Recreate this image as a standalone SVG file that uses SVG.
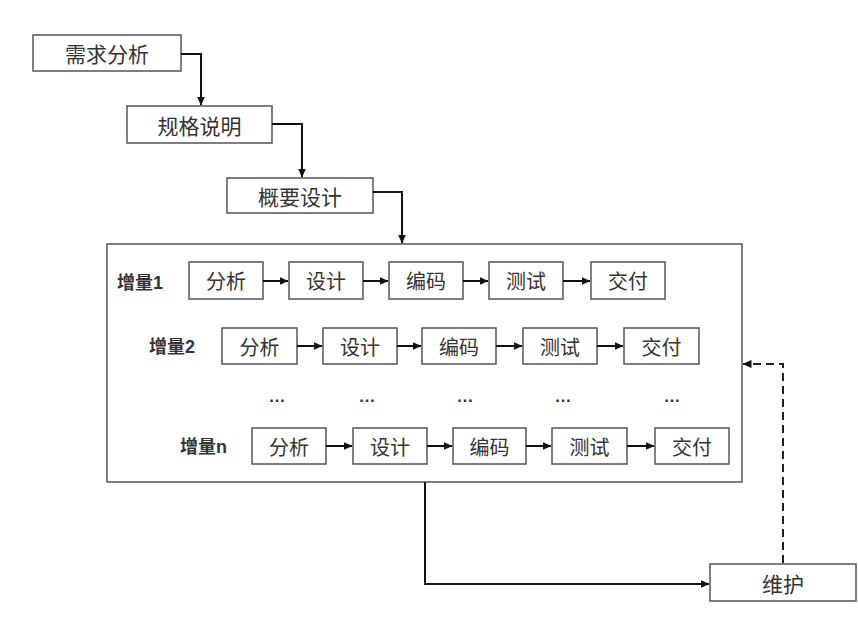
<svg xmlns="http://www.w3.org/2000/svg" width="858" height="628" viewBox="0 0 858 628">
<style>
.box{fill:#fff;stroke:#555;stroke-width:1.5}
.t{font-family:"Noto Sans CJK SC","Noto Sans",sans-serif;font-size:20px;fill:#333;text-anchor:middle;dominant-baseline:central}
.big{font-size:21px}
.lbl{font-family:"Liberation Sans","Noto Sans CJK SC",sans-serif;font-size:18px;font-weight:bold;fill:#333;dominant-baseline:central}
.dots{font-family:"Liberation Sans",sans-serif;font-size:17px;font-weight:bold;fill:#333;text-anchor:middle}
.c{fill:none;stroke:#111;stroke-width:2}
.d{fill:none;stroke:#222;stroke-width:2;stroke-dasharray:8,5}
</style>
<defs>
<marker id="ah" markerWidth="9" markerHeight="8" refX="8.5" refY="4" orient="auto" markerUnits="userSpaceOnUse">
<path d="M0,0 L9,4 L0,8 Z" fill="#111"/>
</marker>
</defs>
<rect width="858" height="628" fill="#fff"/>

<g id="container">
<rect class="box" x="107" y="244" width="635" height="238"/>
</g>

<g id="n-req"><rect class="box" x="33" y="35" width="148" height="36"/><text class="t big" x="107" y="53">需求分析</text></g>
<g id="n-spec"><rect class="box" x="127" y="106" width="145" height="37"/><text class="t big" x="199.5" y="124.5">规格说明</text></g>
<g id="n-outline"><rect class="box" x="227" y="178" width="146" height="35"/><text class="t big" x="300" y="195.5">概要设计</text></g>
<g id="n-maint"><rect class="box" x="710" y="564" width="146" height="37"/><text class="t big" x="783" y="582.5">维护</text></g>

<g id="row1">
<text class="lbl" x="117" y="283">增量1</text>
<g id="r1-a"><rect class="box" x="189" y="262" width="74" height="37"/><text class="t" x="226" y="280.5">分析</text></g>
<g id="r1-b"><rect class="box" x="289" y="262" width="74" height="37"/><text class="t" x="326" y="280.5">设计</text></g>
<g id="r1-c"><rect class="box" x="389" y="262" width="74" height="37"/><text class="t" x="426" y="280.5">编码</text></g>
<g id="r1-d"><rect class="box" x="489" y="262" width="74" height="37"/><text class="t" x="526" y="280.5">测试</text></g>
<g id="r1-e"><rect class="box" x="591" y="262" width="74" height="37"/><text class="t" x="628" y="280.5">交付</text></g>
</g>

<g id="row2">
<text class="lbl" x="149" y="347">增量2</text>
<g id="r2-a"><rect class="box" x="222" y="328" width="75" height="36"/><text class="t" x="259.5" y="346">分析</text></g>
<g id="r2-b"><rect class="box" x="323" y="328" width="74" height="36"/><text class="t" x="360" y="346">设计</text></g>
<g id="r2-c"><rect class="box" x="422" y="328" width="74" height="36"/><text class="t" x="459" y="346">编码</text></g>
<g id="r2-d"><rect class="box" x="523" y="328" width="74" height="36"/><text class="t" x="560" y="346">测试</text></g>
<g id="r2-e"><rect class="box" x="624" y="328" width="75" height="36"/><text class="t" x="661.5" y="346">交付</text></g>
</g>

<g id="dots">
<text class="dots" x="277" y="402">…</text>
<text class="dots" x="367" y="402">…</text>
<text class="dots" x="465" y="402">…</text>
<text class="dots" x="563" y="402">…</text>
<text class="dots" x="672" y="402">…</text>
</g>

<g id="rown">
<text class="lbl" x="180" y="447">增量n</text>
<g id="rn-a"><rect class="box" x="252" y="428" width="74" height="36"/><text class="t" x="289" y="446">分析</text></g>
<g id="rn-b"><rect class="box" x="353" y="428" width="74" height="36"/><text class="t" x="390" y="446">设计</text></g>
<g id="rn-c"><rect class="box" x="453" y="428" width="73" height="36"/><text class="t" x="489.5" y="446">编码</text></g>
<g id="rn-d"><rect class="box" x="552" y="428" width="75" height="36"/><text class="t" x="589.5" y="446">测试</text></g>
<g id="rn-e"><rect class="box" x="655" y="428" width="74" height="36"/><text class="t" x="692" y="446">交付</text></g>
</g>

<g id="connectors">
<path class="c" d="M181,54 H201 V105" marker-end="url(#ah)"/>
<path class="c" d="M272,124 H302 V177" marker-end="url(#ah)"/>
<path class="c" d="M373,192 H402 V243" marker-end="url(#ah)"/>
<path class="c" d="M263,281 H288" marker-end="url(#ah)"/>
<path class="c" d="M363,281 H388" marker-end="url(#ah)"/>
<path class="c" d="M463,281 H488" marker-end="url(#ah)"/>
<path class="c" d="M563,281 H590" marker-end="url(#ah)"/>
<path class="c" d="M297,346 H322" marker-end="url(#ah)"/>
<path class="c" d="M397,346 H421" marker-end="url(#ah)"/>
<path class="c" d="M496,346 H522" marker-end="url(#ah)"/>
<path class="c" d="M597,346 H623" marker-end="url(#ah)"/>
<path class="c" d="M326,446 H352" marker-end="url(#ah)"/>
<path class="c" d="M427,446 H452" marker-end="url(#ah)"/>
<path class="c" d="M526,446 H551" marker-end="url(#ah)"/>
<path class="c" d="M627,446 H654" marker-end="url(#ah)"/>
<path class="c" d="M425,482 V584 H709" marker-end="url(#ah)"/>
<path class="d" d="M783,563 V364 H743" marker-end="url(#ah)"/>
</g>
</svg>
